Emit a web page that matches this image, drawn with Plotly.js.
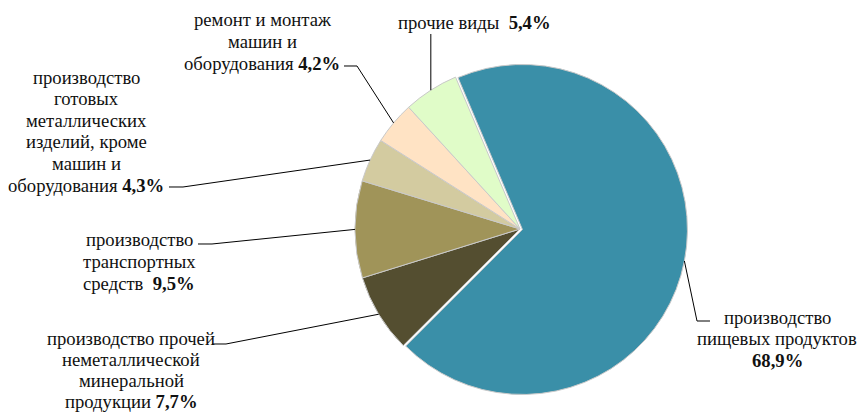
<!DOCTYPE html>
<html>
<head>
<meta charset="utf-8">
<script src="https://cdn.plot.ly/plotly-3.0.1.min.js"></script>
<style>
html,body{margin:0;padding:0;background:#fff;}
#chart{width:859px;height:412px;}
#chart svg text{font-family:"Liberation Serif", serif !important;}
</style>
</head>
<body>
<div id="chart"></div>
<script>
// ---- data ----
const categories = [
  "производство пищевых продуктов",
  "производство прочей неметаллической минеральной продукции",
  "производство транспортных средств",
  "производство готовых металлических изделий, кроме машин и оборудования",
  "ремонт и монтаж машин и оборудования",
  "прочие виды"
];
const shares = [68.9, 7.7, 9.5, 4.3, 4.2, 5.4];
const shareLabels = ["68,9%", "7,7%", "9,5%", "4,3%", "4,2%", "5,4%"];
const labelLines = [
  ["производство", "пищевых продуктов", "<b>" + shareLabels[0] + "</b>"],
  ["производство прочей", "неметаллической", "минеральной", "продукции <b>" + shareLabels[1] + "</b>"],
  ["производство", "транспортных", "средств  <b>" + shareLabels[2] + "</b>"],
  ["производство", "готовых", "металлических", "изделий, кроме", "машин и", "оборудования <b>" + shareLabels[3] + "</b>"],
  ["ремонт и монтаж", "машин и", "оборудования <b>" + shareLabels[4] + "</b>"],
  ["прочие виды  <b>" + shareLabels[5] + "</b>"]
];
const colors = ["#3A8FA8", "#544E30", "#A09459", "#D3CBA0", "#FFE3C4", "#E0FCC8"];
const pulls = [0.015, 0, 0, 0, 0, 0];

// ---- layout geometry ----
const W = 859, H = 412;
const cx = 520, cy = 229, R = 165, rotation = -23;
const maxPull = Math.max(...pulls);
const half = R * (1 + maxPull);
const domX = [(cx - half) / W, (cx + half) / W];
const domY = [(H - cy - half) / H, (H - cy + half) / H];

// label placement: centre x, first-row centre y, row spacing, leader-line end points (pixels)
const labelPos = [
  {x: 777, y: 317, lh: 21.6, pts: [[710, 321], [697, 321]]},
  {x: 131, y: 338, lh: 21.0, pts: [[212, 344], [226, 344]]},
  {x: 139, y: 240, lh: 21.6, pts: [[198, 244], [212, 244]]},
  {x: 86,  y: 77,  lh: 21.6, pts: [[169, 187], [183, 187]]},
  {x: 262, y: 20,  lh: 21.6, pts: [[344, 66], [357, 66]]},
  {x: 475, y: 23,  lh: 21.6, pts: null}
];

const px = x => x / W;
const py = y => 1 - y / H;

const total = shares.reduce((a, b) => a + b, 0);
let cum = 0;
const anchors = shares.map((v, i) => {
  const mid = (rotation + (cum + v / 2) / total * 360) * Math.PI / 180;
  cum += v;
  const r = R * (1 + pulls[i]);
  return [cx + r * Math.sin(mid), cy - r * Math.cos(mid)];
});

const FONT = "Liberation Serif";
const shapes = [];
const annotations = [];
labelPos.forEach((lp, i) => {
  const a = anchors[i];
  let pts;
  if (lp.pts) pts = lp.pts.concat([a]);
  else pts = [[a[0], 34], a];
  const path = pts.map((p, k) => (k ? "L" : "M") + px(p[0]).toFixed(5) + "," + py(p[1]).toFixed(5)).join(" ");
  shapes.push({type: "path", xref: "paper", yref: "paper", path: path, line: {color: "#000", width: 1}});
  labelLines[i].forEach((t, k) => {
    annotations.push({
      xref: "paper", yref: "paper", x: px(lp.x), y: py(lp.y + k * lp.lh),
      xanchor: "center", yanchor: "middle", align: "center",
      text: t, showarrow: false,
      font: {family: FONT, size: 18.67, color: "#111"}
    });
  });
});

const trace = {
  type: "pie",
  labels: categories,
  values: shares,
  sort: false,
  direction: "clockwise",
  rotation: rotation,
  pull: pulls,
  marker: {colors: colors, line: {color: "#c9c9c9", width: 1}},
  textinfo: "none",
  hoverinfo: "none",
  domain: {x: domX, y: domY},
  showlegend: false
};

Plotly.newPlot("chart", [trace], {
  width: W, height: H,
  margin: {l: 0, r: 0, t: 0, b: 0},
  paper_bgcolor: "#fff",
  font: {family: FONT},
  showlegend: false,
  shapes: shapes,
  annotations: annotations
}, {staticPlot: true});
</script>
</body>
</html>
